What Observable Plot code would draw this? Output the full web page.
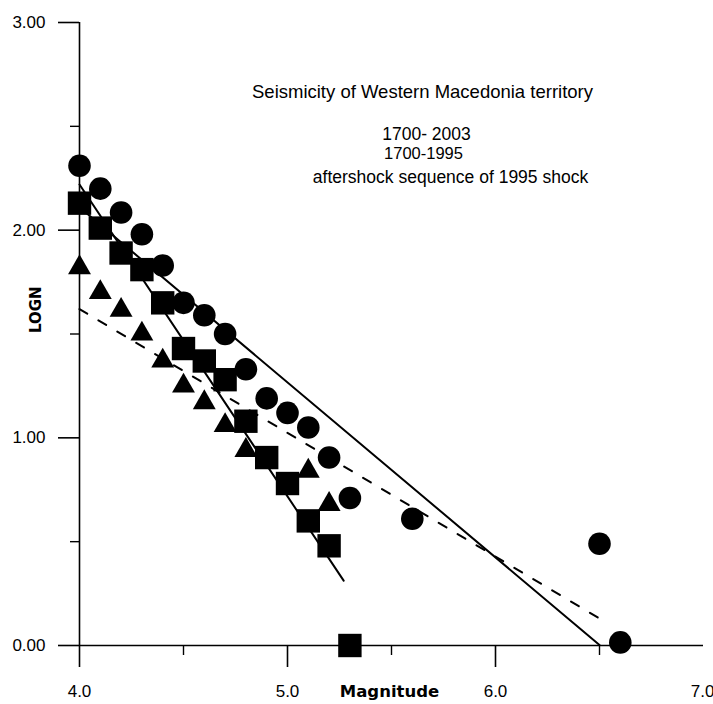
<!DOCTYPE html>
<html>
<head>
<meta charset="utf-8">
<script src="https://cdn.jsdelivr.net/npm/d3@7"></script>
<script src="https://cdn.jsdelivr.net/npm/@observablehq/plot@0.6"></script>
<style>
  html, body { margin: 0; padding: 0; background: #fff; }
  #chart svg { display: block; }
</style>
</head>
<body>
<div id="chart"></div>
<script>
// 1700-2003 (circles)
const mag2003 = [4.0, 4.1, 4.2, 4.3, 4.4, 4.5, 4.6, 4.7, 4.8, 4.9, 5.0, 5.1, 5.2, 5.3, 5.6, 6.5, 6.6];
const logN2003 = [2.31, 2.20, 2.085, 1.98, 1.83, 1.65, 1.59, 1.50, 1.33, 1.19, 1.12, 1.05, 0.905, 0.71, 0.61, 0.49, 0.015];
// 1700-1995 (squares)
const mag1995 = [4.0, 4.1, 4.2, 4.3, 4.4, 4.5, 4.6, 4.7, 4.8, 4.9, 5.0, 5.1, 5.2, 5.3];
const logN1995 = [2.13, 2.01, 1.89, 1.81, 1.65, 1.43, 1.37, 1.28, 1.08, 0.905, 0.78, 0.60, 0.48, 0.0];
// aftershock sequence of 1995 shock (triangles)
const magAfter = [4.0, 4.1, 4.2, 4.3, 4.4, 4.5, 4.6, 4.7, 4.8, 5.1, 5.2];
const logNAfter = [1.82, 1.70, 1.615, 1.50, 1.37, 1.25, 1.17, 1.06, 0.94, 0.84, 0.68];

// fitted lines: logN = a - b*(M - 4), drawn from M0 to M1
const fitNames = ["fit A", "fit B", "fit C"];
const fitA = [2.11, 2.22, 1.62];
const fitB = [0.843, 1.502, 0.596];
const fitM0 = [4.0, 4.0, 4.0];
const fitM1 = [6.5, 5.27, 6.52];
const fitDashed = [false, false, true];

const xTicks = [4, 5, 6];
const xLastTick = [7];
const xMinor = [4.5, 5.5, 6.5];
const yTicks = [0, 1, 2, 3];
const yMinor = [0.5, 1.5, 2.5];

const titleLines = ["Seismicity of Western Macedonia territory", "1700- 2003", "1700-1995", "aftershock sequence of 1995 shock"];

const toPts = (ms, ls) => ms.map((m, i) => ({m, l: ls[i]}));
const fitSeg = (i) => [fitM0[i], fitM1[i]].map(m => ({m, l: fitA[i] - fitB[i] * (m - 4), name: fitNames[i]}));
const solidLines = fitNames.map((_, i) => i).filter(i => !fitDashed[i]);
const dashedLines = fitNames.map((_, i) => i).filter(i => fitDashed[i]);

const chart = Plot.plot({
  width: 713,
  height: 704,
  marginLeft: 79,
  marginRight: 10,
  marginTop: 22,
  marginBottom: 59,
  x: {domain: [4, 7]},
  y: {domain: [0, 3]},
  style: {fontFamily: "Liberation Sans", fontSize: "17px", background: "#fff", color: "#000"},
  marks: [
    // axis lines
    Plot.ruleX([4], {y1: 0, y2: 3, strokeWidth: 1.6}),
    Plot.ruleY([0], {x1: 4, x2: 7, strokeWidth: 1.6}),
    Plot.axisY({ticks: yTicks, tickSize: 21, tickPadding: 13, strokeWidth: 1.6, tickFormat: d => d.toFixed(2), label: null, fontSize: 17}),
    Plot.axisY({ticks: yMinor, tickSize: 9, tickPadding: 0, strokeWidth: 1.4, tickFormat: () => "", label: null}),
    Plot.axisX({ticks: xTicks, tickSize: 22, tickPadding: 17, strokeWidth: 1.6, tickFormat: d => d.toFixed(1), label: null, fontSize: 17}),
    Plot.axisX({ticks: xLastTick, tickSize: 22, tickPadding: 17, strokeWidth: 1.6, tickFormat: d => d.toFixed(1), label: null, fontSize: 17, textAnchor: "end", dx: 11}),
    Plot.axisX({ticks: xMinor, tickSize: 10, tickPadding: 0, strokeWidth: 1.4, tickFormat: () => "", label: null}),
    // fit lines
    ...solidLines.map(i => Plot.line(fitSeg(i), {x: "m", y: "l", stroke: "#000", strokeWidth: 2})),
    ...dashedLines.map(i => Plot.line(fitSeg(i), {x: "m", y: "l", stroke: "#000", strokeWidth: 2, strokeDasharray: "9,13"})),
    // data
    Plot.dot(toPts(mag1995, logN1995), {x: "m", y: "l", symbol: "square", r: 13.2, fill: "#000", stroke: null}),
    Plot.dot(toPts(magAfter, logNAfter), {x: "m", y: "l", symbol: "triangle", r: 8.5, fill: "#000", stroke: null}),
    Plot.dot(toPts(mag2003, logN2003), {x: "m", y: "l", symbol: "circle", r: 11.3, fill: "#000", stroke: null}),
    // annotations
    Plot.text([titleLines[0]], {frameAnchor: "top-left", dx: 343, dy: 62, text: d => d, textAnchor: "middle", fontSize: 18.5}),
    Plot.text([titleLines[1]], {frameAnchor: "top-left", dx: 347, dy: 105, text: d => d, textAnchor: "middle", fontSize: 17.5}),
    Plot.text([titleLines[2]], {frameAnchor: "top-left", dx: 344, dy: 125, text: d => d, textAnchor: "middle", fontSize: 16.5}),
    Plot.text([titleLines[3]], {frameAnchor: "top-left", dx: 371, dy: 148, text: d => d, textAnchor: "middle", fontSize: 17.5}),
    // axis titles
    Plot.text(["LOGN"], {frameAnchor: "left", dx: -43, dy: -1, rotate: -90, text: d => d, fontFamily: "DejaVu Sans", fontWeight: "bold", fontSize: 15}),
    Plot.text(["Magnitude"], {frameAnchor: "bottom-left", dx: 310, dy: 51, text: d => d, textAnchor: "middle", fontFamily: "DejaVu Sans", fontWeight: "bold", fontSize: 16.5, letterSpacing: "-0.6px"})
  ]
});
document.getElementById("chart").appendChild(chart);
</script>
</body>
</html>
